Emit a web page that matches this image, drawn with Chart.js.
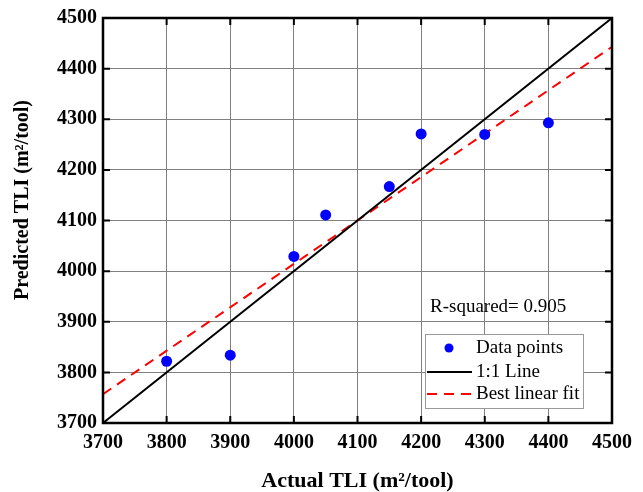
<!DOCTYPE html>
<html>
<head>
<meta charset="utf-8">
<script src="https://cdn.jsdelivr.net/npm/chart.js@4.4.1/dist/chart.umd.min.js"></script>
<style>
  html, body { margin: 0; padding: 0; background: #fff; }
  #wrap { width: 643px; height: 492px; }
</style>
</head>
<body>
<div id="wrap"><canvas id="c" width="643" height="492"></canvas></div>
<script>
// data
const actualTLI = [3800, 3900, 4000, 4050, 4150, 4200, 4300, 4400];
const predictedTLI = [3822, 3834, 4029, 4111, 4167, 4271, 4270, 4293];
const oneToOne = [[3700, 3700], [4500, 4500]];
const bestFit = [[3700, 3757], [4500, 4443]];
const axisTicks = [3700, 3800, 3900, 4000, 4100, 4200, 4300, 4400, 4500];
const rSquaredText = "R-squared= 0.905";
const yTitle = "Predicted TLI (m²/tool)";

const serif = "'Liberation Serif', 'Times New Roman', serif";

function toPoints(xs, ys) {
    return xs.map((x, i) => ({ x: x, y: ys[i] }));
}
function pairPoints(arr) {
    return arr.map(p => ({ x: p[0], y: p[1] }));
}

// inward tick marks on all four sides + y title + r-squared label + legend box
const decoPlugin = {
    id: 'deco',
    afterDraw(chart) {
        const ctx = chart.ctx;
        const a = chart.chartArea;
        const sx = chart.scales.x, sy = chart.scales.y;
        ctx.save();
        ctx.strokeStyle = '#000';
        ctx.lineWidth = 2;
        const len = 7;
        axisTicks.forEach(v => {
            const px = sx.getPixelForValue(v);
            const py = sy.getPixelForValue(v);
            ctx.beginPath();
            ctx.moveTo(px, a.bottom); ctx.lineTo(px, a.bottom - len);
            ctx.moveTo(px, a.top); ctx.lineTo(px, a.top + len);
            ctx.moveTo(a.left, py); ctx.lineTo(a.left + len, py);
            ctx.moveTo(a.right, py); ctx.lineTo(a.right - len, py);
            ctx.stroke();
        });
        ctx.lineWidth = 2.5;
        ctx.strokeRect(a.left, a.top, a.right - a.left, a.bottom - a.top);

        // y axis title, a bit above the middle as in the original
        ctx.save();
        ctx.translate(23, 200);
        ctx.rotate(-Math.PI / 2);
        ctx.fillStyle = '#000';
        ctx.font = "bold 20px " + serif;
        ctx.textAlign = 'center';
        ctx.textBaseline = 'middle';
        ctx.fillText(yTitle, 0, 0);
        ctx.restore();

        // r-squared
        ctx.fillStyle = '#000';
        ctx.font = "19px " + serif;
        ctx.textAlign = 'left';
        ctx.textBaseline = 'middle';
        ctx.fillText(rSquaredText, 430, 307);

        // legend
        const lx = 425, ly = 334, lw = 158, lh = 74;
        ctx.fillStyle = '#fff';
        ctx.fillRect(lx, ly, lw, lh);
        ctx.strokeStyle = '#999';
        ctx.lineWidth = 1;
        ctx.strokeRect(lx + 0.5, ly + 0.5, lw, lh);
        const ds = chart.data.datasets;
        const rows = [348, 372, 394];
        ds.forEach((d, i) => {
            const y = rows[i];
            if (d.showLine === false) {
                ctx.fillStyle = d.backgroundColor;
                ctx.beginPath();
                ctx.arc(449, y, 4.5, 0, Math.PI * 2);
                ctx.fill();
            } else {
                ctx.strokeStyle = d.borderColor;
                ctx.lineWidth = d.borderWidth;
                ctx.setLineDash(d.borderDash || []);
                ctx.beginPath();
                ctx.moveTo(427, y); ctx.lineTo(472, y);
                ctx.stroke();
                ctx.setLineDash([]);
            }
            ctx.fillStyle = '#000';
            ctx.font = "19px " + serif;
            ctx.fillText(d.label, 476, y);
        });
        ctx.restore();
    }
};

new Chart(document.getElementById('c'), {
    type: 'scatter',
    data: {
        datasets: [
            {
                label: 'Data points',
                data: toPoints(actualTLI, predictedTLI),
                showLine: false,
                backgroundColor: '#0000ff',
                borderColor: '#0000ff',
                pointRadius: 5.5,
                pointBorderWidth: 0
            },
            {
                label: '1:1 Line',
                data: pairPoints(oneToOne),
                showLine: true,
                borderColor: '#000',
                borderWidth: 2,
                pointRadius: 0
            },
            {
                label: 'Best linear fit',
                data: pairPoints(bestFit),
                showLine: true,
                borderColor: '#ff0000',
                borderWidth: 2,
                borderDash: [10, 7],
                pointRadius: 0
            }
        ]
    },
    options: {
        responsive: false,
        animation: false,
        layout: { padding: { top: 15, right: 31, left: 0, bottom: 0 } },
        plugins: {
            legend: { display: false },
            tooltip: { enabled: false }
        },
        scales: {
            x: {
                type: 'linear',
                min: 3700, max: 4500,
                afterBuildTicks: function (axis) {
                    axis.ticks = axisTicks.map(v => ({ value: v }));
                },
                afterFit: function (scale) { scale.height = 69; },
                border: { display: false },
                grid: { color: '#808080', lineWidth: 1, drawTicks: false },
                ticks: {
                    color: '#000',
                    padding: 8,
                    maxRotation: 0,
                    callback: v => String(v),
                    font: { family: serif, size: 20, weight: 'bold' }
                },
                title: {
                    display: true,
                    text: 'Actual TLI (m²/tool)',
                    color: '#000',
                    padding: { top: 9, bottom: 0 },
                    font: { family: serif, size: 22, weight: 'bold', lineHeight: 0.95 }
                }
            },
            y: {
                type: 'linear',
                min: 3700, max: 4500,
                afterBuildTicks: function (axis) {
                    axis.ticks = axisTicks.map(v => ({ value: v }));
                },
                afterFit: function (scale) { scale.width = 103; },
                border: { display: false },
                grid: { color: '#808080', lineWidth: 1, drawTicks: false },
                ticks: {
                    color: '#000',
                    padding: 6,
                    callback: v => String(v),
                    font: { family: serif, size: 20, weight: 'bold' }
                }
            }
        }
    },
    plugins: [decoPlugin]
});
</script>
</body>
</html>
